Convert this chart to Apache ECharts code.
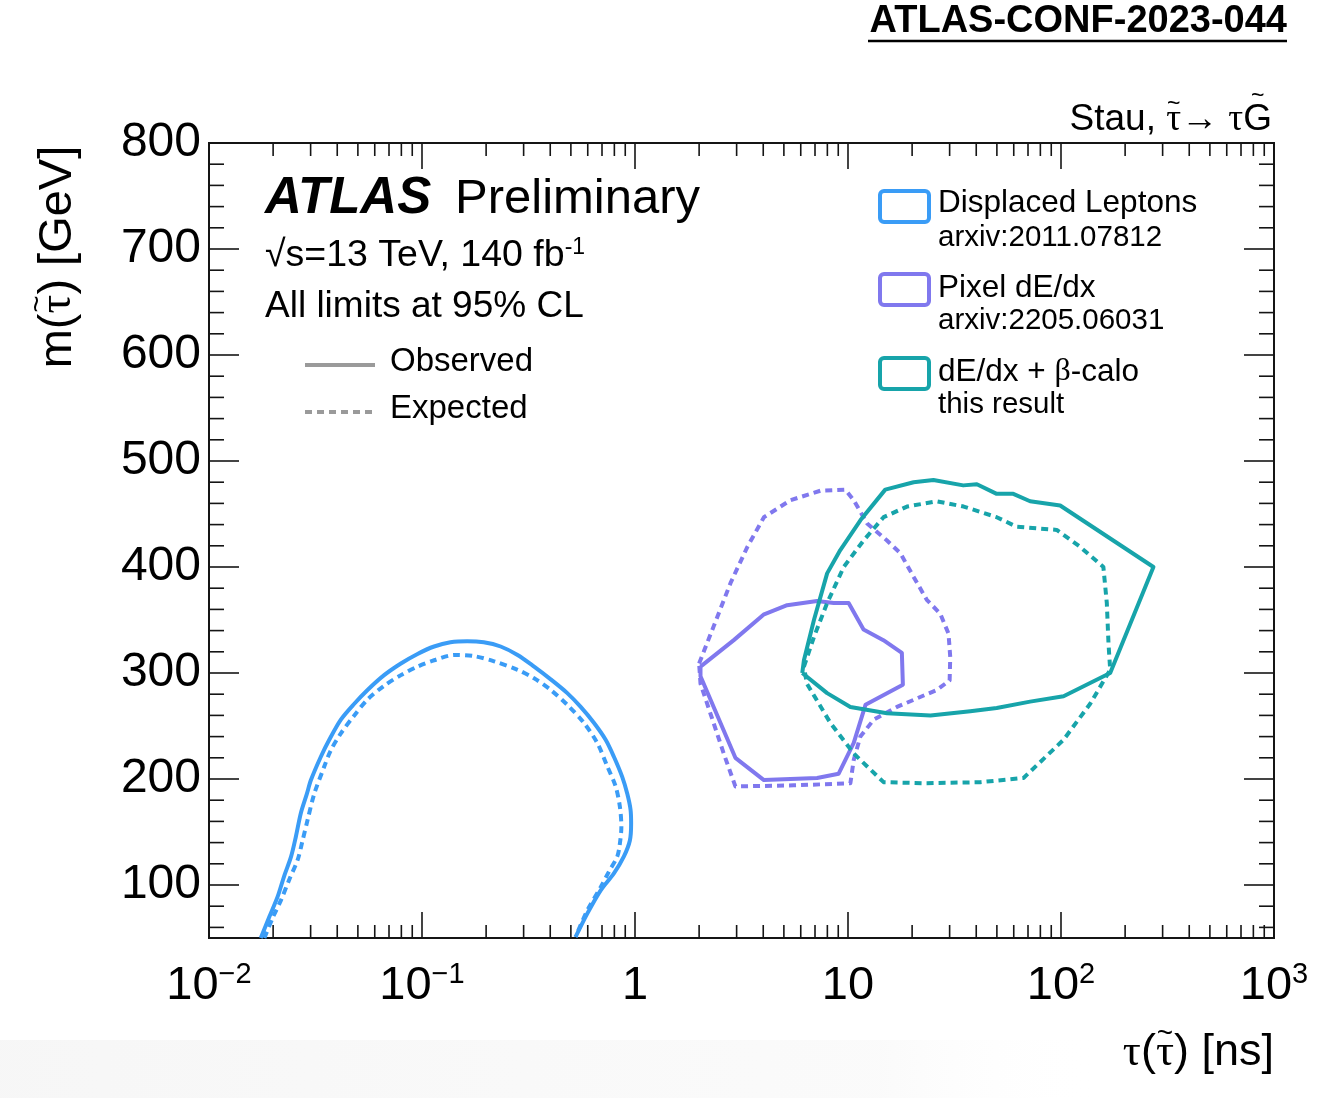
<!DOCTYPE html>
<html>
<head>
<meta charset="utf-8">
<script src="https://cdn.jsdelivr.net/npm/echarts@6/dist/echarts.min.js"></script>
<style>
  html, body { margin: 0; padding: 0; background: #fff; }
  #chart { width: 1332px; height: 1098px; }
</style>
</head>
<body>
<div id="chart"></div>
<script>
// Stau -> tau + gravitino: excluded regions in lifetime (ns) vs mass (GeV), 95% CL

// Displaced Leptons (arxiv:2011.07812)
const dlObsTau  = [0.0175, 0.0192, 0.0210, 0.0225, 0.0243, 0.0256, 0.0270, 0.0288, 0.0301, 0.0335, 0.0367, 0.0416, 0.0481, 0.0555, 0.0664, 0.0796, 0.0953, 0.114, 0.136, 0.163, 0.195, 0.234, 0.281, 0.336, 0.402, 0.481, 0.556, 0.641, 0.728, 0.796, 0.871, 0.920, 0.953, 0.959, 0.946, 0.887, 0.796, 0.690, 0.597, 0.526];
const dlObsMass = [50, 70, 89, 108, 127, 146, 168, 186, 199, 221, 237, 256, 271, 284, 298, 309, 318, 325, 329, 330, 329, 325, 317, 306, 294, 281, 268, 253, 237, 221, 202, 186, 171, 158, 142, 127, 111, 95, 73, 51];
const dlExpTau  = [0.0182, 0.0199, 0.0218, 0.0238, 0.0261, 0.0275, 0.0290, 0.0312, 0.0348, 0.0373, 0.0416, 0.0481, 0.0555, 0.0664, 0.0796, 0.0953, 0.114, 0.142, 0.175, 0.218, 0.281, 0.336, 0.402, 0.481, 0.575, 0.665, 0.741, 0.811, 0.849, 0.863, 0.849, 0.826, 0.756, 0.690, 0.597, 0.526];
const dlExpMass = [50, 69, 86, 105, 124, 142, 161, 186, 212, 227, 243, 260, 275, 288, 298, 306, 312, 317, 316, 311, 303, 295, 284, 270, 253, 234, 212, 193, 174, 155, 139, 127, 113, 98, 76, 51];

// Pixel dE/dx (arxiv:2205.06031)
const pxObsTau  = [2.03, 2.91, 4.01, 5.18, 7.16, 8.57, 10.07, 11.83, 14.66, 17.9, 18.1, 12.08, 10.64, 9.04, 7.16, 4.03, 2.96, 2.03, 2.03];
const pxObsMass = [306, 331, 355, 364, 368, 366, 366, 341, 331, 319, 289, 270, 234, 205, 201, 199, 220, 297, 306];
const pxExpTau  = [2.00, 2.34, 2.81, 3.37, 4.03, 5.37, 7.43, 9.72, 10.64, 12.30, 15.24, 17.62, 20.28, 23.44, 27.10, 29.65, 30.20, 30.0, 26.12, 16.98, 13.21, 11.43, 10.64, 10.26, 5.56, 2.96, 2.61, 2.03, 2.00];
const pxExpMass = [309, 344, 385, 419, 447, 463, 472, 473, 463, 441, 425, 413, 391, 369, 356, 337, 315, 293, 284, 268, 256, 240, 218, 196, 194, 193, 224, 290, 309];

// dE/dx + beta-calo (this result)
const bcObsTau  = [6.10, 6.21, 6.92, 7.98, 9.20, 11.43, 14.96, 20.32, 25.18, 34.75, 40.27, 49.9, 59.7, 71.6, 99.1, 271.6, 170.2, 102.8, 71.6, 49.9, 37.5, 24.4, 15.24, 10.26, 7.98, 6.10];
const bcObsMass = [300, 312, 350, 394, 416, 444, 473, 480, 482, 477, 478, 469, 469, 462, 458, 400, 300, 278, 273, 267, 264, 260, 262, 268, 281, 300];
const bcExpTau  = [6.21, 6.92, 7.98, 9.55, 11.83, 14.69, 18.92, 26.12, 34.91, 49.9, 61.9, 95.5, 123.0, 158.1, 164.1, 167.1, 170.2, 137.1, 102.8, 66.7, 41.8, 22.6, 14.69, 10.64, 8.26, 6.41, 6.21];
const bcExpMass = [306, 334, 366, 400, 425, 447, 457, 462, 457, 447, 438, 435, 419, 400, 366, 328, 303, 271, 237, 201, 197, 196, 197, 224, 253, 290, 306];

// Axis ticks
const xMajorTicks = [0.01, 0.1, 1, 10, 100, 1000];
const xMinorSteps = [2, 3, 4, 5, 6, 7, 8, 9];
const yMajorTicks = [100, 200, 300, 400, 500, 600, 700, 800];
const yMinorStep = 20;

const BLUE = '#3a9cf6';
const PURPLE = '#8078ee';
const TEAL = '#17a4aa';

const SANS = '"Liberation Sans", Arial, Helvetica, sans-serif';
const SERIF = '"Liberation Serif", "DejaVu Serif", serif';

function zip(a, b) { return a.map((v, i) => [v, b[i]]); }

// tick marks drawn inward on all four frame sides
const tickData = [];
xMajorTicks.forEach(v => tickData.push([v, 400, 0, 26]));
xMajorTicks.slice(0, -1).forEach(d => xMinorSteps.forEach(s => tickData.push([d * s, 400, 0, 13])));
yMajorTicks.forEach(v => tickData.push([1, v, 1, 30]));
for (let m = 60; m < 800; m += yMinorStep) {
  if (m % 100 !== 0) tickData.push([1, m, 1, 15]);
}

function renderTick(params, api) {
  const cs = params.coordSys;
  const kind = api.value(2), len = api.value(3);
  const st = { stroke: '#151515', lineWidth: 1.6 };
  if (kind === 0) {
    const px = api.coord([api.value(0), 400])[0];
    const b = cs.y + cs.height;
    return { type: 'group', children: [
      { type: 'line', shape: { x1: px, y1: b, x2: px, y2: b - len }, style: st },
      { type: 'line', shape: { x1: px, y1: cs.y, x2: px, y2: cs.y + len }, style: st }
    ]};
  }
  const py = api.coord([1, api.value(1)])[1];
  const r = cs.x + cs.width;
  return { type: 'group', children: [
    { type: 'line', shape: { x1: cs.x, y1: py, x2: cs.x + len, y2: py }, style: st },
    { type: 'line', shape: { x1: r, y1: py, x2: r - len, y2: py }, style: st }
  ]};
}

function contour(name, tau, mass, color, dashed, smooth) {
  return {
    name: name,
    type: 'line',
    data: zip(tau, mass),
    symbol: 'none',
    smooth: smooth ? 0.3 : false,
    lineStyle: { color: color, width: 4, type: dashed ? [7, 5] : 'solid', cap: 'butt', join: 'round' },
    z: 3
  };
}

// Text pieces laid out left to right; pieces flagged with `tilde` get an accent above them.
const measureCtx = document.createElement('canvas').getContext('2d');
function textWidth(str, font) { measureCtx.font = font; return measureCtx.measureText(str).width; }
function composedLabel(pieces, size, x, y, anchor, rotation) {
  let cx = 0;
  const items = [];
  pieces.forEach(p => {
    const font = size + 'px ' + (p.serif ? SERIF : SANS);
    const w = textWidth(p.t, font);
    items.push({ t: p.t, font: font, x: cx, w: w, tilde: p.tilde });
    cx += w;
  });
  const shift = anchor === 'right' ? -cx : anchor === 'center' ? -cx / 2 : 0;
  const children = [];
  items.forEach(it => {
    children.push({ type: 'text', x: it.x + shift, y: 0, style: { text: it.t, font: it.font, fill: '#000', verticalAlign: 'middle' } });
    if (it.tilde !== undefined) {
      children.push({ type: 'text', x: it.x + shift + it.w / 2, y: -size * it.tilde,
        style: { text: '~', font: Math.round(size * 0.62) + 'px ' + SANS, fill: '#000', align: 'center', verticalAlign: 'middle' } });
    }
  });
  return { type: 'group', x: x, y: y, rotation: rotation || 0, children: children };
}

const chart = echarts.init(document.getElementById('chart'), null, { renderer: 'canvas' });

const option = {
  animation: false,
  backgroundColor: '#fff',
  grid: { left: 209, right: 58, top: 143, bottom: 160, show: true, borderColor: '#151515', borderWidth: 2, backgroundColor: 'transparent' },
  xAxis: {
    type: 'log', logBase: 10, min: 0.01, max: 1000, splitNumber: 5,
    axisLine: { show: false }, axisTick: { show: false }, splitLine: { show: false },
    axisLabel: {
      margin: 22, showMinLabel: true, showMaxLabel: true, hideOverlap: false,
      formatter: function (v) {
        const e = Math.round(Math.log10(v));
        if (e === 0) return '{b|1}';
        if (e === 1) return '{b|10}';
        return '{b|10}{s|' + (e < 0 ? '\u2212' : '') + Math.abs(e) + '}';
      },
      rich: {
        b: { fontSize: 47, fontFamily: SANS, color: '#000', lineHeight: 52 },
        s: { fontSize: 29, fontFamily: SANS, color: '#000', lineHeight: 26, verticalAlign: 'top' }
      }
    }
  },
  yAxis: {
    type: 'value', min: 50, max: 800, interval: 50,
    axisLine: { show: false }, axisTick: { show: false }, splitLine: { show: false },
    axisLabel: {
      margin: 8, fontSize: 48, fontFamily: SANS, color: '#000',
      showMinLabel: true, showMaxLabel: true,
      formatter: function (v) { return v % 100 === 0 ? String(v) : ''; }
    }
  },
  series: [
    { type: 'custom', renderItem: renderTick, data: tickData, silent: true, z: 5, clip: false },
    contour('Displaced Leptons observed', dlObsTau, dlObsMass, BLUE, false, true),
    contour('Displaced Leptons expected', dlExpTau, dlExpMass, BLUE, true, true),
    contour('Pixel dE/dx observed', pxObsTau, pxObsMass, PURPLE, false, false),
    contour('Pixel dE/dx expected', pxExpTau, pxExpMass, PURPLE, true, false),
    contour('dE/dx + beta-calo observed', bcObsTau, bcObsMass, TEAL, false, false),
    contour('dE/dx + beta-calo expected', bcExpTau, bcExpMass, TEAL, true, false)
  ],
  graphic: [
    // faint grey band along the bottom edge
    { type: 'rect', shape: { x: 0, y: 1040, width: 1100, height: 58 }, silent: true, z: -10,
      style: { fill: new echarts.graphic.LinearGradient(0, 0, 1, 0, [
        { offset: 0, color: 'rgba(238,238,238,0.5)' }, { offset: 0.8, color: 'rgba(242,242,242,0.35)' }, { offset: 1, color: 'rgba(255,255,255,0)' }]) } },

    // document reference, top right
    { type: 'text', x: 1287, y: 22, style: { text: 'ATLAS-CONF-2023-044', font: 'bold 38px ' + SANS, fill: '#000', align: 'right', verticalAlign: 'middle' } },
    { type: 'line', shape: { x1: 868, y1: 41, x2: 1287, y2: 41 }, style: { stroke: '#000', lineWidth: 2.5 } },

    // process label above the frame
    composedLabel([
      { t: 'Stau, ' }, { t: '\u03C4', serif: true, tilde: 0.42 }, { t: '\u2192 ' },
      { t: '\u03C4', serif: true }, { t: 'G', tilde: 0.62 }
    ], 37, 1272, 120, 'right'),

    // axis titles
    composedLabel([
      { t: '\u03C4', serif: true }, { t: '(' }, { t: '\u03C4', serif: true, tilde: 0.42 }, { t: ') [ns]' }
    ], 45, 1274, 1053, 'right'),
    composedLabel([
      { t: 'm(' }, { t: '\u03C4', serif: true, tilde: 0.42 }, { t: ') [GeV]' }
    ], 47, 58, 257, 'center', Math.PI / 2),

    // experiment label
    { type: 'text', x: 265, y: 199, style: { text: 'ATLAS', font: 'italic bold 51px ' + SANS, fill: '#000', verticalAlign: 'middle' } },
    { type: 'text', x: 455, y: 199, style: { text: 'Preliminary', font: '49px ' + SANS, fill: '#000', verticalAlign: 'middle' } },
    { type: 'text', x: 265, y: 256, style: {
      text: '{t|\u221As=13 TeV, 140 fb}{s|-1}', verticalAlign: 'middle',
      rich: { t: { font: '37.5px ' + SANS, fill: '#000', lineHeight: 40 }, s: { font: '23px ' + SANS, fill: '#000', lineHeight: 22, verticalAlign: 'top' } } } },
    { type: 'text', x: 265, y: 307, style: { text: 'All limits at 95% CL', font: '37px ' + SANS, fill: '#000', verticalAlign: 'middle' } },

    // observed / expected line key
    { type: 'line', shape: { x1: 305, y1: 365, x2: 375, y2: 365 }, style: { stroke: '#9a9a9a', lineWidth: 4 } },
    { type: 'text', x: 390, y: 362, style: { text: 'Observed', font: '33px ' + SANS, fill: '#000', verticalAlign: 'middle' } },
    { type: 'line', shape: { x1: 305, y1: 412, x2: 372, y2: 412 }, style: { stroke: '#9a9a9a', lineWidth: 4, lineDash: [7, 5] } },
    { type: 'text', x: 390, y: 409, style: { text: 'Expected', font: '33px ' + SANS, fill: '#000', verticalAlign: 'middle' } },

    // analysis key
    { type: 'rect', shape: { x: 880, y: 191, width: 49, height: 31, r: 4 }, style: { fill: 'none', stroke: BLUE, lineWidth: 4 } },
    { type: 'text', x: 938, y: 203, style: { text: 'Displaced Leptons', font: '31.5px ' + SANS, fill: '#000', verticalAlign: 'middle' } },
    { type: 'text', x: 938, y: 238, style: { text: 'arxiv:2011.07812', font: '29.5px ' + SANS, fill: '#000', verticalAlign: 'middle' } },
    { type: 'rect', shape: { x: 880, y: 274, width: 49, height: 31, r: 4 }, style: { fill: 'none', stroke: PURPLE, lineWidth: 4 } },
    { type: 'text', x: 938, y: 288, style: { text: 'Pixel dE/dx', font: '31.5px ' + SANS, fill: '#000', verticalAlign: 'middle' } },
    { type: 'text', x: 938, y: 321, style: { text: 'arxiv:2205.06031', font: '29.5px ' + SANS, fill: '#000', verticalAlign: 'middle' } },
    { type: 'rect', shape: { x: 880, y: 358, width: 49, height: 31, r: 4 }, style: { fill: 'none', stroke: TEAL, lineWidth: 4 } },
    { type: 'text', x: 938, y: 372, style: {
      text: '{t|dE/dx + }{g|\u03B2}{t|-calo}', verticalAlign: 'middle',
      rich: { t: { font: '31.5px ' + SANS, fill: '#000' }, g: { font: '32px ' + SERIF, fill: '#000' } } } },
    { type: 'text', x: 938, y: 405, style: { text: 'this result', font: '29.5px ' + SANS, fill: '#000', verticalAlign: 'middle' } }
  ]
};

chart.setOption(option);
</script>
</body>
</html>
